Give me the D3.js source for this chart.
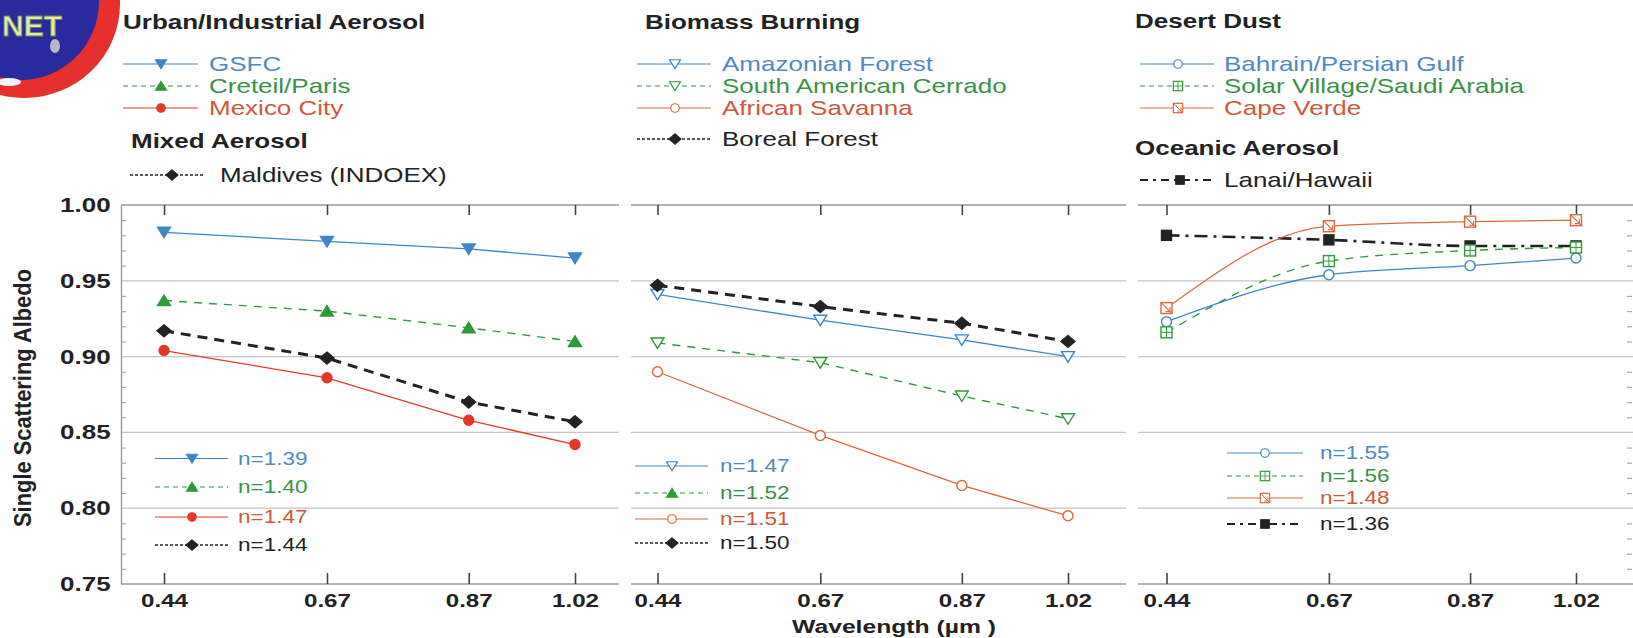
<!DOCTYPE html>
<html><head><meta charset="utf-8">
<script src="https://cdn.jsdelivr.net/npm/d3@7"></script>
<style>body{margin:0;background:#fff}svg{display:block;font-family:"Liberation Sans",Arial,sans-serif}</style>
</head><body><svg id="c" width="1633" height="638"></svg>
<script>
// ---------------- DATA ----------------
const wavelengths = [0.44, 0.67, 0.87, 1.02];
const xTickLabels = ["0.44", "0.67", "0.87", "1.02"];
const yTickValues = [0.75, 0.80, 0.85, 0.90, 0.95, 1.00];
const yTickLabels = ["0.75", "0.80", "0.85", "0.90", "0.95", "1.00"];
const yMinorValues = [0.76,0.77,0.78,0.79,0.81,0.82,0.83,0.84,0.86,0.87,0.88,0.89,0.91,0.92,0.93,0.94,0.96,0.97,0.98,0.99];

// Panel 1: Urban/Industrial + Mixed
const gsfc     = [0.982, 0.976, 0.971, 0.965];
const creteil  = [0.937, 0.930, 0.919, 0.910];
const mexico   = [0.904, 0.886, 0.858, 0.842];
const maldives = [0.917, 0.899, 0.870, 0.857];
// Panel 2: Biomass burning
const amazon   = [0.941, 0.924, 0.911, 0.900];
const cerrado  = [0.909, 0.896, 0.874, 0.859];
const savanna  = [0.890, 0.848, 0.815, 0.795];
const boreal   = [0.947, 0.933, 0.922, 0.910];
// Panel 3: Desert dust + Oceanic
const bahrain  = [0.923, 0.954, 0.960, 0.965];
const solar    = [0.916, 0.963, 0.970, 0.972];
const capeVerde= [0.932, 0.986, 0.989, 0.990];
const lanai    = [0.980, 0.977, 0.973, 0.973];

const panel1Names = ["GSFC", "Creteil/Paris", "Mexico City", "Maldives (INDOEX)"];
const panel2Names = ["Amazonian Forest", "South American Cerrado", "African Savanna", "Boreal Forest"];
const panel3Names = ["Bahrain/Persian Gulf", "Solar Village/Saudi Arabia", "Cape Verde", "Lanai/Hawaii"];
const panel1Index = ["n=1.39", "n=1.40", "n=1.47", "n=1.44"];
const panel2Index = ["n=1.47", "n=1.52", "n=1.51", "n=1.50"];
const panel3Index = ["n=1.55", "n=1.56", "n=1.48", "n=1.36"];
const groupTitles = ["Urban/Industrial Aerosol", "Mixed Aerosol", "Biomass Burning", "Desert Dust", "Oceanic Aerosol"];
const yAxisTitle = "Single Scattering Albedo";
const xAxisTitle = "Wavelength (\u00b5m )";

// ---------------- STYLE ----------------
const C = {blue:"#3f86c6", green:"#2f9a3a", red:"#e3392b", orange:"#d9683f", black:"#222",
           blueT:"#5089c0", greenT:"#3a9048", redT:"#d0583a", blackT:"#222"};
const SX = 1.3;   // horizontal stretch of the scanned figure
const LINE = {
  solid:  {plot:null, pw:1.3, leg:null, lw:1.2},
  dash:   {plot:"8,7", pw:1.4, leg:"5,4", lw:1.2},
  heavy:  {plot:"10,7", pw:3, leg:"3,2", lw:1.3},
  dashdot:{plot:"13,6,3,6", pw:2.6, leg:"8,5,3,5", lw:2}
};
const S = {
  gsfc:    {c:C.blue,   t:C.blueT,  l:"solid",  m:"triDown", f:true},
  creteil: {c:C.green,  t:C.greenT, l:"dash",   m:"triUp",   f:true},
  mexico:  {c:C.red,    t:C.redT,   l:"solid",  m:"circle",  f:true},
  maldives:{c:C.black,  t:C.blackT, l:"heavy",  m:"diamond", f:true},
  amazon:  {c:C.blue,   t:C.blueT,  l:"solid",  m:"triDown", f:false},
  cerrado: {c:C.green,  t:C.greenT, l:"dash",   m:"triDown", f:false},
  cerradoN:{c:C.green,  t:C.greenT, l:"dash",   m:"triUp",   f:true},
  savanna: {c:C.orange, t:C.redT,   l:"solid",  m:"circle",  f:false},
  boreal:  {c:C.black,  t:C.blackT, l:"heavy",  m:"diamond", f:true},
  bahrain: {c:C.blue,   t:C.blueT,  l:"solid",  m:"circle",  f:false},
  solar:   {c:C.green,  t:C.greenT, l:"dash",   m:"squarePlus", f:false},
  cape:    {c:C.orange, t:C.redT,   l:"solid",  m:"squareSlash", f:false},
  lanai:   {c:C.black,  t:C.blackT, l:"dashdot",m:"square",  f:true}
};

const panels = [
  {x0:121, x1:619,  a:164,   b:575,  curve:d3.curveLinear,
   series:[[gsfc,S.gsfc],[creteil,S.creteil],[maldives,S.maldives],[mexico,S.mexico]]},
  {x0:631, x1:1126, a:657.5, b:1068, curve:d3.curveLinear,
   series:[[cerrado,S.cerrado],[savanna,S.savanna],[amazon,S.amazon],[boreal,S.boreal]]},
  {x0:1138,x1:1633, a:1166.5,b:1576, curve:d3.curveMonotoneX,
   series:[[lanai,S.lanai],[bahrain,S.bahrain],[solar,S.solar],[capeVerde,S.cape]]}
];

const svg = d3.select("#c");
svg.append("rect").attr("width",1633).attr("height",638).attr("fill","#fff");
const y = d3.scaleLinear().domain([0.75, 1.00]).range([584, 205]);

function txt(g, x, yy, s, o={}) {
  return g.append("text")
    .attr("transform", `translate(${x},${yy}) scale(${o.sx||SX},1)`)
    .attr("text-anchor", o.anchor||"start")
    .attr("font-size", o.size||20)
    .attr("font-weight", o.bold?"bold":"normal")
    .attr("fill", o.fill||"#222")
    .text(s);
}

function marker(g, type, x, yy, color, filled, k=1) {
  const m = g.append("g").attr("transform", `translate(${x},${yy}) scale(${k})`)
    .attr("stroke", color).attr("stroke-width", 1.4).attr("fill", filled?color:"#fff");
  if (type==="triDown") m.append("path").attr("d","M-6.5,-5L6.5,-5L0,5.5Z");
  else if (type==="triUp") m.append("path").attr("d","M-6.5,5L6.5,5L0,-5.5Z");
  else if (type==="circle") m.append("circle").attr("r",5);
  else if (type==="diamond") m.append("path").attr("d","M0,-6L7,0L0,6L-7,0Z");
  else if (type==="square") m.append("rect").attr("x",-5).attr("y",-5).attr("width",10).attr("height",10);
  else if (type==="squarePlus") { m.append("rect").attr("x",-5.5).attr("y",-5.5).attr("width",11).attr("height",11);
    m.append("path").attr("d","M0,-5.5V5.5M-5.5,0H5.5").attr("stroke-width",1); }
  else if (type==="squareSlash") { m.append("rect").attr("x",-5.5).attr("y",-5.5).attr("width",11).attr("height",11);
    m.append("path").attr("d","M-5.5,-5.5L5.5,5.5M-1,3.5L3.5,3.5L3.5,-1").attr("fill","none").attr("stroke-width",1.1); }
}

// ---------------- LOGO (partial AERONET badge) ----------------
const logo = svg.append("g");
logo.append("ellipse").attr("cx",24).attr("cy",4).attr("rx",96).attr("ry",94).attr("fill","#e6302c");
logo.append("ellipse").attr("cx",21).attr("cy",1).attr("rx",78).attr("ry",79).attr("fill","#2a2a9e");
logo.append("ellipse").attr("cx",9).attr("cy",82).attr("rx",12).attr("ry",4).attr("fill","#f4f4ff");
logo.append("ellipse").attr("cx",55).attr("cy",46).attr("rx",5).attr("ry",7).attr("fill","#b8b8c8");
logo.append("text").attr("x",2).attr("y",36).attr("font-size",30).attr("font-weight","bold")
  .attr("fill","#dfe9b0").attr("stroke","#6f8a3a").attr("stroke-width",0.8).text("NET");

// ---------------- PANELS ----------------
panels.forEach((p, pi) => {
  const x = d3.scaleLinear().domain([wavelengths[0], wavelengths[3]]).range([p.a, p.b]);
  const g = svg.append("g");
  yTickValues.forEach(v => {
    const edge = (v===1.00 || v===0.75);
    g.append("line").attr("x1",p.x0).attr("x2",p.x1).attr("y1",y(v)).attr("y2",y(v))
      .attr("stroke", edge?"#9a9a9a":"#c4c4c4").attr("stroke-width", edge?1.6:1.3);
  });
  const gb = g.append("g").attr("transform","translate(0,584)")
    .call(d3.axisBottom(x).tickValues(wavelengths).tickFormat((d,i)=>xTickLabels[i]).tickSize(-11).tickPadding(10));
  gb.select(".domain").remove();
  gb.selectAll(".tick line").attr("stroke","#444").attr("stroke-width",1.6);
  gb.selectAll(".tick text").attr("font-size",19).attr("font-weight","bold").attr("fill","#222")
    .attr("font-family","'Liberation Sans',Arial,sans-serif").attr("transform",`scale(${SX-0.03},1)`);
  const gt = g.append("g").attr("transform","translate(0,205)")
    .call(d3.axisTop(x).tickValues(wavelengths).tickFormat("").tickSize(-10));
  gt.select(".domain").remove();
  gt.selectAll(".tick text").remove();
  gt.selectAll(".tick line").attr("stroke","#444").attr("stroke-width",1.6);

  const line = d3.line().x((d,i)=>x(wavelengths[i])).y(d=>y(d)).curve(p.curve);
  p.series.forEach(([vals, st]) => {
    const L = LINE[st.l];
    g.append("path").attr("d", line(vals)).attr("fill","none").attr("stroke", st.c)
      .attr("stroke-width", L.pw).attr("stroke-dasharray", L.plot);
  });
  p.series.forEach(([vals, st]) => {
    vals.forEach((v,i) => marker(g, st.m, x(wavelengths[i]), y(v), st.c, st.f));
  });
});

// left y axis (panel 1)
const ya = svg.append("g").attr("transform","translate(121,0)")
  .call(d3.axisLeft(y).tickValues(yTickValues).tickFormat((d,i)=>yTickLabels[i]).tickSize(0).tickPadding(8));
ya.select(".domain").attr("stroke","#9a9a9a").attr("stroke-width",1.4);
ya.selectAll(".tick text").attr("font-size",20).attr("font-weight","bold").attr("fill","#222")
  .attr("font-family","'Liberation Sans',Arial,sans-serif").attr("transform",`scale(${SX},1)`);
const ym = svg.append("g").attr("transform","translate(121,0)")
  .call(d3.axisRight(y).tickValues(yMinorValues).tickFormat("").tickSize(5));
ym.select(".domain").remove();
ym.selectAll(".tick line").attr("stroke","#aaa").attr("stroke-width",1.2);
const yr = svg.append("g").attr("transform","translate(1632,0)")
  .call(d3.axisLeft(y).tickValues(yMinorValues).tickFormat("").tickSize(5));
yr.select(".domain").remove();
yr.selectAll(".tick line").attr("stroke","#aaa").attr("stroke-width",1.2);

// axis titles
svg.append("text").attr("transform","translate(31,398) rotate(-90) scale(1,1.2)")
  .attr("text-anchor","middle").attr("font-size",20).attr("font-weight","bold").attr("fill","#222")
  .attr("textLength",258).attr("lengthAdjust","spacingAndGlyphs").text(yAxisTitle);
txt(svg, 894, 633, xAxisTitle, {anchor:"middle", bold:true, size:19});

// ---------------- LEGENDS ----------------
function row(x1, x2, xm, xt, yc, st, label, size) {
  const L = LINE[st.l];
  svg.append("line").attr("x1",x1).attr("x2",x2).attr("y1",yc).attr("y2",yc)
    .attr("stroke", st.c).attr("stroke-width", L.lw).attr("stroke-dasharray", L.leg);
  marker(svg, st.m, xm, yc, st.c, st.f, 0.85);
  txt(svg, xt, yc + size*0.36, label, {size:size, fill:st.t, sx: size===20?SX:1.25});
}
txt(svg, 123, 29, groupTitles[0], {bold:true});
txt(svg, 131, 148, groupTitles[1], {bold:true});
txt(svg, 645, 29, groupTitles[2], {bold:true});
txt(svg, 1135, 28, groupTitles[3], {bold:true});
txt(svg, 1135, 155, groupTitles[4], {bold:true});

const topRows = [64, 86, 108];
[S.gsfc, S.creteil, S.mexico].forEach((st,i)=> row(123, 198, 161, 209, topRows[i], st, panel1Names[i], 20));
row(130, 205, 172, 220, 175, S.maldives, panel1Names[3], 20);
const p2rows = [64, 86, 108, 139];
[S.amazon, S.cerrado, S.savanna, S.boreal].forEach((st,i)=> row(637, 711, 675, 722, p2rows[i], st, panel2Names[i], 20));
[S.bahrain, S.solar, S.cape].forEach((st,i)=> row(1140, 1214, 1178, 1224, topRows[i], st, panel3Names[i], 20));
row(1140, 1214, 1180, 1224, 180, S.lanai, panel3Names[3], 20);

const in1 = [458.5, 487, 517, 545];
[S.gsfc, S.creteil, S.mexico, S.maldives].forEach((st,i)=> row(155, 228, 192, 238, in1[i], st, panel1Index[i], 18));
const in2 = [466, 493, 519, 543];
[S.amazon, S.cerradoN, S.savanna, S.boreal].forEach((st,i)=> row(635, 708, 672, 720, in2[i], st, panel2Index[i], 18));
const in3 = [453, 476, 498, 524];
[S.bahrain, S.solar, S.cape, S.lanai].forEach((st,i)=> row(1227, 1303, 1265, 1320, in3[i], st, panel3Index[i], 18));
</script></body></html>
